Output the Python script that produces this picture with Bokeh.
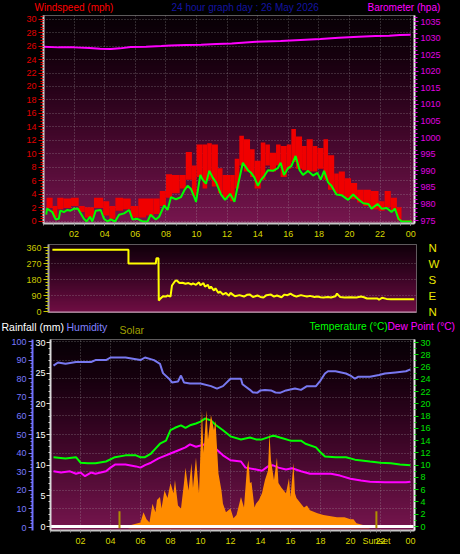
import numpy as np
from bokeh.plotting import figure
from bokeh.models import Range1d, LinearAxis, SingleIntervalTicker, FixedTicker, Label, Grid, Span
from bokeh.layouts import column
from bokeh.embed import file_html
from bokeh.resources import INLINE

# ---------------- data ----------------
TITLE = "24 hour graph day : 26 May 2026"
HOUR_TICKS = [2, 4, 6, 8, 10, 12, 14, 16, 18, 20, 22, 24]
HOUR_LABELS = ["02", "04", "06", "08", "10", "12", "14", "16", "18", "20", "22", "00"]

wind_avg_hours = [0.18, 0.23, 0.57, 0.8, 1.0, 1.1, 1.33, 1.55, 1.77, 2.0, 2.25, 2.43, 2.64, 2.82, 3.04,
                  3.19, 3.41, 3.74, 3.95, 4.18, 4.39, 4.68, 4.94, 5.27, 5.6, 5.82, 6.14, 6.47, 6.8, 7.0,
                  7.34, 7.56, 7.89, 8.11, 8.33, 8.66, 8.98, 9.2, 9.42, 9.64, 9.86, 9.97, 10.25, 10.4, 10.62,
                  10.84, 11.06, 11.28, 11.6, 11.87, 12.2, 12.48, 12.7, 13.03, 13.36, 13.57, 13.79, 14.01,
                  14.23, 14.45, 14.67, 15.0, 15.32, 15.5, 15.72, 15.98, 16.2, 16.48, 16.74, 16.96, 17.29,
                  17.62, 17.9, 18.12, 18.34, 18.6, 18.82, 19.15, 19.48, 19.91, 20.24, 20.57, 20.9, 21.23,
                  21.44, 21.84, 22.1, 22.43, 22.75, 22.97, 23.2, 23.41, 24.07]
wind_avg_mph = [1.0, 1.9, 1.4, 0.3, 0.4, 1.6, 1.4, 1.7, 1.6, 1.9, 1.9, 1.2, 0.4, 0.0, 0.7,
                0.0, 1.6, 1.7, 0.4, 0.0, 0.3, 0.0, 1.0, 1.2, 1.7, 0.3, 0.4, 0.0, 0.0, 1.0,
                0.3, 0.7, 2.4, 1.7, 3.6, 3.3, 3.6, 4.6, 5.3, 4.8, 3.6, 2.9, 6.9, 6.2, 5.6,
                7.5, 6.5, 5.8, 4.0, 3.2, 4.1, 2.9, 5.3, 8.7, 7.6, 7.2, 6.5, 5.3,
                6.2, 6.8, 7.6, 7.5, 7.9, 8.7, 6.9, 7.9, 8.2, 9.7, 7.6, 6.9, 7.5,
                6.8, 7.2, 6.2, 7.5, 5.8, 5.3, 4.0, 3.9, 3.2, 4.0, 3.3, 2.7, 2.6,
                1.9, 2.6, 1.9, 2.0, 1.4, 1.9, 0.4, 0.0, 0.0]

gust_edges = [0.2, 0.6, 0.9, 1.3, 1.8, 2.3, 2.7, 3.3, 3.9, 4.3, 4.7, 5.2, 5.7, 6.2, 6.7, 7.2, 7.6, 8.0,
              8.4, 8.9, 9.3, 9.7, 10.0, 10.4, 10.7, 11.0, 11.4, 11.7, 12.2, 12.5, 12.8, 13.1, 13.5, 13.8,
              14.2, 14.5, 14.8, 15.2, 15.5, 15.9, 16.2, 16.5, 16.9, 17.2, 17.6, 17.9, 18.3, 18.6, 19.0,
              19.3, 19.7, 20.1, 20.5, 20.9, 21.4, 21.9, 22.3, 22.7, 23.1, 23.4, 24.1]
gust_high_mph = [3.5, 2.3, 3.5, 3.4, 3.5, 2.3, 2.1, 3.5, 3.0, 2.3, 3.5, 3.4, 2.3, 3.4, 3.4, 3.4, 4.5, 7.0,
                 6.9, 6.9, 10.3, 8.3, 11.4, 11.4, 11.6, 11.4, 7.9, 6.9, 6.9, 9.3, 12.7, 12.2, 10.7, 9.0,
                 11.7, 11.4, 10.2, 11.4, 11.2, 11.4, 13.7, 12.6, 11.2, 12.2, 11.2, 10.9, 12.2, 9.8, 7.1,
                 7.4, 6.4, 5.7, 4.7, 4.7, 4.5, 3.0, 4.5, 3.5, 2.1, 0.2]
gust_low_mph = [2.0, 0.6, 1.8, 2.0, 2.3, 1.4, 0.6, 2.0, 0.9, 0.4, 1.6, 1.8, 0.6, 0.6, 0.9, 1.1, 2.3, 3.5,
                4.2, 4.9, 6.2, 3.8, 6.6, 4.9, 6.2, 5.2, 4.2, 3.5, 3.0, 4.9, 8.3, 7.4, 6.6, 4.9,
                6.2, 8.3, 7.4, 8.3, 6.6, 7.8, 8.8, 7.8, 7.6, 7.4, 7.4, 7.8, 6.2, 4.7, 4.2,
                3.8, 3.5, 3.3, 2.8, 2.3, 1.8, 1.6, 2.1, 1.6, 0.2, 0.0]

baro_hours = [0, 1, 2, 3, 3.7, 4.4, 5, 5.7, 6.7, 7.7, 8.3, 9.3, 10.3, 11.3, 12.3, 13.9, 15.5, 16.8,
              18.1, 19.3, 20.6, 21.7, 22.6, 23.3, 24]
baro_hpa = [1027.4, 1027.2, 1027.2, 1027.0, 1026.8, 1026.7, 1026.9, 1027.3, 1027.4, 1027.6, 1027.8,
            1027.9, 1028.0, 1028.2, 1028.4, 1028.9, 1029.1, 1029.4, 1029.7, 1030.1, 1030.4, 1030.6,
            1030.7, 1030.9, 1031.0]

dir_hours = [0.13, 5.2, 5.2, 7.02, 7.07, 7.2, 7.22, 7.3, 7.5, 7.7, 7.8, 8.0, 8.1, 8.3, 8.4, 8.6, 8.8,
             9.0, 9.2, 9.4, 9.5, 9.7, 9.9, 10.0, 10.2, 10.3, 10.5, 10.6, 10.7, 10.9, 11.0, 11.2, 11.3,
             11.5, 11.7, 11.9, 12.0, 12.3, 12.6, 12.9, 13.1, 13.3, 13.5, 13.8, 14.0, 14.2, 14.4, 14.7,
             14.9, 15.1, 15.4, 15.6, 15.8, 16.0, 16.2, 16.4, 16.7, 16.9, 17.1, 17.3, 17.6, 17.8, 18.0,
             18.2, 18.5, 18.7, 19.0, 19.1, 19.3, 19.6, 20.0, 20.4, 20.7, 20.9, 21.1, 21.8, 21.9, 22.1,
             22.4, 22.7, 24.25]
dir_deg = [348, 348, 270, 270, 300, 300, 62, 70, 86, 84, 90, 84, 146, 170, 176, 160, 162,
           156, 160, 152, 158, 150, 164, 148, 160, 140, 150, 128, 140, 118, 130, 104, 112,
           96, 104, 88, 105, 86, 92, 84, 94, 95, 82, 90, 82, 79, 92, 95,
           84, 90, 80, 95, 92, 101, 90, 84, 92, 88, 84, 88, 82, 84, 80,
           79, 82, 79, 86, 101, 82, 79, 80, 79, 84, 80, 73, 73, 66, 77,
           71, 69, 69]
DIR_TICKS = [0, 90, 180, 270, 360]
DIR_LABELS = ["N", "E", "S", "W", "N"]

hum_hours = [0.2, 0.5, 1, 1.7, 2.7, 3, 3.7, 4, 5, 6, 6.3, 6.9, 7.3, 7.5, 7.9, 8.1, 8.5, 8.7, 8.9, 9.3,
             10, 10.7, 11.1, 11.5, 12, 12.7, 12.8, 13.3, 13.5, 13.8, 14, 14.3, 14.7, 15, 15.3, 15.7,
             16.0, 16.3, 16.7, 17.1, 17.7, 18, 18.3, 18.5, 19, 19.7, 20, 20.3, 20.5, 21.3, 21.9, 22.3,
             23, 23.7, 24]
hum_pct = [87, 88.7, 88, 89, 89, 90, 90, 91.4, 91.4, 90, 91.4, 90, 88, 83, 80, 78, 78.5, 81.7, 78, 77.4,
           77.4, 76, 74.7, 76, 80, 80, 77, 74, 72.6, 72.5, 73.7, 73.9, 73.7, 72.6, 72.4, 73.7,
           74.2, 74.7, 74, 76, 76, 79, 82.8, 84, 84, 82.8, 81.7, 80, 81, 81, 82, 82.8,
           83.4, 84, 85]

temp_hours = [0.2, 1, 1.7, 2, 2.5, 3, 3.7, 4.3, 5, 5.7, 6, 6.3, 6.7, 7, 7.3, 7.7, 8, 8.3, 8.7, 9, 9.3,
              9.7, 10, 10.3, 10.7, 11, 11.5, 12, 12.7, 13.3, 13.7, 14.1, 14.7, 14.9, 15.3, 16, 16.7, 17,
              17.7, 18, 18.3, 19, 19.7, 20.3, 21.3, 22, 22.7, 23.3, 24]
temp_c = [11.3, 11.1, 11.3, 10.4, 10.3, 10.3, 10.6, 11.3, 11.6, 11.6, 11.3, 11.3, 11.9, 12.7, 13.5, 14.0,
          15.7, 16.1, 16.5, 16.1, 16.5, 16.8, 17.1, 17.6, 17.3, 16.6, 15.7, 14.7, 14.2, 14.5, 14.2, 14.2,
          14.7, 14.8, 14.5, 14.0, 14.0, 13.5, 12.9, 12.1, 11.4, 11.3, 11.3, 10.9, 10.6, 10.4, 10.3, 10.1,
          10.0]

dew_hours = [0.2, 0.7, 1.3, 1.7, 2, 2.3, 2.7, 3, 3.7, 4, 4.3, 5, 5.7, 6, 6.3, 6.7, 7.2, 7.7, 8, 8.5, 9,
             9.3, 9.7, 10, 10.3, 10.7, 11, 11.5, 12, 12.7, 13, 13.7, 14.1, 14.5, 14.8, 15.2, 15.7, 16.1,
             16.7, 17.3, 18, 18.7, 19.3, 20, 20.7, 21.3, 22.3, 23, 23.7, 24]
dew_c = [9.0, 8.8, 9.0, 8.6, 8.8, 8.2, 8.8, 8.6, 9.0, 9.6, 10.1, 10.1, 9.8, 9.6, 10.0, 10.4, 11.1, 11.6,
         11.9, 12.4, 12.9, 13.4, 13.0, 13.2, 13.4, 13.2, 12.7, 11.6, 10.8, 10.6, 9.6, 9.3, 9.1, 9.8,
         10.0, 9.6, 9.3, 9.5, 9.0, 8.6, 8.6, 8.6, 8.3, 7.8, 7.5, 7.3, 7.2, 7.2, 7.2, 7.3]

solar_hours = [0.0, 5.2, 5.25, 6.0, 6.2, 6.4, 6.6, 6.8, 7.0, 7.1, 7.3, 7.4, 7.6, 7.8, 8.0, 8.2, 8.3, 8.5,
               8.7, 8.9, 9.0, 9.2, 9.4, 9.5, 9.7, 9.9, 10.1, 10.2, 10.4, 10.5, 10.7, 10.9, 11.0, 11.2,
               11.4, 11.5, 11.7, 12.0, 12.2, 12.4, 12.7, 12.9, 13.1, 13.2, 13.3, 13.4, 13.6, 13.7, 13.9,
               14.1, 14.3, 14.5, 14.6, 14.7, 14.9, 15.1, 15.2, 15.4, 15.7, 15.9, 16.0, 16.2, 16.3, 16.4,
               16.7, 16.9, 17.1, 17.3, 17.8, 18.2, 18.7, 19.1, 19.6, 20.0, 20.2, 20.4, 20.9, 21.1, 21.3,
               24.2]
solar_wm2 = [0, 0, 15, 30, 85, 48, 30, 130, 85, 150, 165, 105, 200, 160, 240, 185, 255, 120,
             105, 240, 320, 200, 345, 215, 375, 185, 625, 400, 625, 470, 600, 520, 570, 290,
             200, 130, 85, 105, 53, 70, 165, 110, 320, 360, 240, 245, 110, 130, 150,
             185, 255, 305, 505, 360, 255, 375, 240, 215, 185, 265, 165, 345, 185, 160,
             130, 110, 120, 95, 80, 70, 64, 58, 58, 48, 48, 27, 16, 5, 0,
             0]

rain_hours = [0.0, 24.2]
rain_mm = [0.0, 0.0]
sun_event_hours = [4.6, 21.73]
SUNSET_LABEL = "Sunset"

# ---------------- helpers ----------------
FONT = "Liberation Sans"
W = 460


def gradient(stops, n=128):
    img = np.empty((n, 1), dtype=np.uint32)
    view = img.view(dtype=np.uint8).reshape((n, 1, 4))
    pos = [s[0] for s in stops]
    for i in range(n):
        t = i / (n - 1)
        for k in range(3):
            view[i, 0, k] = int(np.interp(t, pos, [s[1][k] for s in stops]))
        view[i, 0, 3] = 255
    return img


def add_gradient(p, xr, yr, stops):
    p.image_rgba(image=[gradient(stops)], x=xr.start, y=yr.start,
                 dw=xr.end - xr.start, dh=yr.end - yr.start, level="image")


def style_axis(ax, color, tick_color=None, line_color=None, line_width=1, size="9px",
               standoff=2, major_out=4, minor_out=2):
    ax.major_label_text_color = color
    ax.major_label_text_font = FONT
    ax.major_label_text_font_size = size
    ax.major_label_standoff = standoff
    tc = tick_color or color
    ax.major_tick_line_color = tc
    ax.minor_tick_line_color = tc
    ax.major_tick_in = 0
    ax.minor_tick_in = 0
    ax.major_tick_out = major_out
    ax.minor_tick_out = minor_out
    ax.axis_line_color = line_color
    ax.axis_line_width = line_width


def style_grid(g):
    g.grid_line_color = "#b8b8b8"
    g.grid_line_alpha = 0.45
    g.grid_line_dash = "1 2"


def make_fig(h, xr, yr, left, right, top, bottom, **kw):
    return figure(width=W, height=h, x_range=xr, y_range=yr, output_backend="svg",
                  toolbar_location=None, min_border_left=left, min_border_right=right,
                  min_border_top=top, min_border_bottom=bottom, border_fill_color="black",
                  background_fill_color="black", outline_line_color="#7a7a7a",
                  frame_align=False, **kw)


def strip(h):
    s = figure(width=W, height=h, x_range=Range1d(0, W), y_range=Range1d(0, h),
               output_backend="svg", toolbar_location=None, min_border=0,
               min_border_left=0, min_border_right=0, min_border_top=0, min_border_bottom=0,
               border_fill_color="black", background_fill_color="black", outline_line_color=None,
               x_axis_location=None, y_axis_location=None, frame_align=False)
    s.grid.visible = False
    return s


def text(p, x, y, s, color, size="10.5px"):
    # y is measured from the strip's bottom edge, to the text's middle
    p.add_layout(Label(x=x, y=y, text=s, text_color=color, text_font=FONT, text_font_size=size,
                       text_align="left", text_baseline="middle"))


MAROON = [(0.0, (118, 22, 78)), (0.45, (62, 6, 40)), (0.8, (22, 0, 14)), (1.0, (8, 0, 6))]
hour_minor = list(np.arange(0, 24.3, 2 / 3))

# ---------------- title strip ----------------
s1 = strip(13)
text(s1, 34, 6.5, "Windspeed (mph)", "#ff0000", size="10px")
text(s1, 171, 6.5, TITLE, "#1414a0", size="10px")
text(s1, 367, 6.5, "Barometer (hpa)", "#ff00ff", size="10px")

# ---------------- panel 1: wind + barometer ----------------
xr1 = Range1d(0, 24.25)
yr1 = Range1d(-0.3, 30.52)
p1 = make_fig(227, xr1, yr1, 43, 46, 2, 17)
p1.extra_y_ranges = {"baro": Range1d(974.1, 1036.81)}
add_gradient(p1, xr1, yr1, MAROON)

p1.xaxis.ticker = FixedTicker(ticks=HOUR_TICKS, minor_ticks=hour_minor)
p1.xaxis.major_label_overrides = dict(zip(HOUR_TICKS, HOUR_LABELS))
style_axis(p1.xaxis[0], "#d8d800", tick_color="#909090", line_color="#c8c8c8", line_width=2,
           standoff=5, major_out=2, minor_out=2)
p1.yaxis.ticker = SingleIntervalTicker(interval=2, num_minor_ticks=5)
style_axis(p1.yaxis[0], "#e00000", line_color="#d0d0d0", line_width=2, major_out=5, minor_out=3)
ax_b = LinearAxis(y_range_name="baro", ticker=SingleIntervalTicker(interval=5, num_minor_ticks=4))
style_axis(ax_b, "#e000e0", line_color="#eeeeee", line_width=2, major_out=4, minor_out=3)
p1.add_layout(ax_b, "right")
style_grid(p1.xgrid[0])
style_grid(p1.ygrid[0])

p1.quad(left=gust_edges[:-1], right=gust_edges[1:], bottom=gust_low_mph, top=gust_high_mph,
        fill_color="#f00000", line_color=None)
p1.line(wind_avg_hours, wind_avg_mph, line_color="#00ff00", line_width=2)
p1.line(baro_hours, baro_hpa, line_color="#ff00ff", line_width=2, y_range_name="baro")

# ---------------- panel 2: wind direction ----------------
xr2 = Range1d(-0.13, 24.4)
yr2 = Range1d(-5.6, 376.9)
p2 = make_fig(78, xr2, yr2, 48, 44, 4, 6, x_axis_location=None)
add_gradient(p2, xr2, yr2, [(0.0, (112, 14, 68)), (0.5, (60, 5, 38)), (1.0, (16, 0, 10))])
p2.xgrid.visible = False
p2.yaxis.ticker = FixedTicker(ticks=DIR_TICKS, minor_ticks=list(range(0, 361, 18)))
style_axis(p2.yaxis[0], "#c8c800", line_color="#a8a8a8", line_width=2, major_out=5, minor_out=3)
ax_d = LinearAxis(ticker=FixedTicker(ticks=DIR_TICKS),
                  major_label_overrides=dict(zip(DIR_TICKS, DIR_LABELS)))
style_axis(ax_d, "#e8e800", line_color=None, size="11.5px", standoff=12, major_out=0, minor_out=0)
ax_d.major_tick_line_color = None
ax_d.minor_tick_line_color = None
p2.add_layout(ax_d, "right")
p2.ygrid.ticker = FixedTicker(ticks=[90, 180, 270])
style_grid(p2.ygrid[0])
p2.add_layout(Span(location=yr2.start, dimension="width", line_color="#c8a0b8", line_width=2))
p2.line(dir_hours, dir_deg, line_color="#ffff00", line_width=2)

# ---------------- legend strip ----------------
s2 = strip(17)
text(s2, 1, 9, "Rainfall (mm)", "#ffffff")
text(s2, 66, 9, "Humidity", "#8080ff")
text(s2, 119, 6, "Solar", "#a0a000")
text(s2, 309, 9, "Temperature (°C)", "#00ff00", size="10.2px")
text(s2, 387, 9, "Dew Point (°C)", "#ff00ff", size="10.2px")

# ---------------- panel 3: humidity, temperature, dew point, solar, rain ----------------
xr3 = Range1d(0, 24.27)
yr3 = Range1d(-0.65, 30.49)
p3 = make_fig(219, xr3, yr3, 50, 46, 4, 24, y_axis_location="right")
p3.extra_y_ranges = {"rain": Range1d(-0.65, 30.49), "hum": Range1d(-1.61, 101.08),
                     "solar": Range1d(-12, 1000)}
add_gradient(p3, xr3, yr3, MAROON)

x3_ticks = HOUR_TICKS + [sun_event_hours[1]]
x3_labels = dict(zip(HOUR_TICKS, HOUR_LABELS))
x3_labels[sun_event_hours[1]] = SUNSET_LABEL
p3.xaxis.ticker = FixedTicker(ticks=x3_ticks, minor_ticks=hour_minor)
p3.xaxis.major_label_overrides = x3_labels
style_axis(p3.xaxis[0], "#d8d800", tick_color="#909090", line_color="#c8c8c8", line_width=2,
           standoff=3, major_out=2, minor_out=2)
p3.xgrid.ticker = FixedTicker(ticks=HOUR_TICKS)
p3.yaxis.ticker = SingleIntervalTicker(interval=2, num_minor_ticks=2)
style_axis(p3.yaxis[0], "#00e000", line_color="#eeeeee", line_width=2, major_out=4, minor_out=2)
ax_r = LinearAxis(y_range_name="rain", ticker=SingleIntervalTicker(interval=5, num_minor_ticks=5))
style_axis(ax_r, "#ffffff", tick_color="#e0e0e0", line_color="#d8d8d8", line_width=2,
           major_out=4, minor_out=2, standoff=1)
p3.add_layout(ax_r, "left")
hum_ticker = SingleIntervalTicker(interval=10, num_minor_ticks=5)
ax_h = LinearAxis(y_range_name="hum", ticker=hum_ticker)
style_axis(ax_h, "#7878ff", line_color="#7070ff", line_width=2, major_out=4, minor_out=2)
p3.add_layout(ax_h, "left")
p3.ygrid.visible = False
style_grid(p3.xgrid[0])
hgrid = Grid(dimension=1, ticker=hum_ticker, y_range_name="hum")
style_grid(hgrid)
p3.add_layout(hgrid)

p3.line(hum_hours, hum_pct, line_color="#7878f0", line_width=2, y_range_name="hum")
p3.line(temp_hours, temp_c, line_color="#00ff00", line_width=2)
p3.line(dew_hours, dew_c, line_color="#ff00ff", line_width=2)
p3.varea(x=solar_hours, y1=0, y2=solar_wm2, fill_color="#ff8c00", y_range_name="solar")
p3.line(rain_hours, rain_mm, line_color="#ffffff", line_width=3, y_range_name="rain")
p3.segment(x0=sun_event_hours, y0=0, x1=sun_event_hours, y1=90, line_color="#b09000",
           line_width=2, y_range_name="solar")

layout = column(s1, p1, p2, s2, p3, spacing=0, styles={"background-color": "black"})
open("out.html", "w").write(file_html(layout, INLINE))
